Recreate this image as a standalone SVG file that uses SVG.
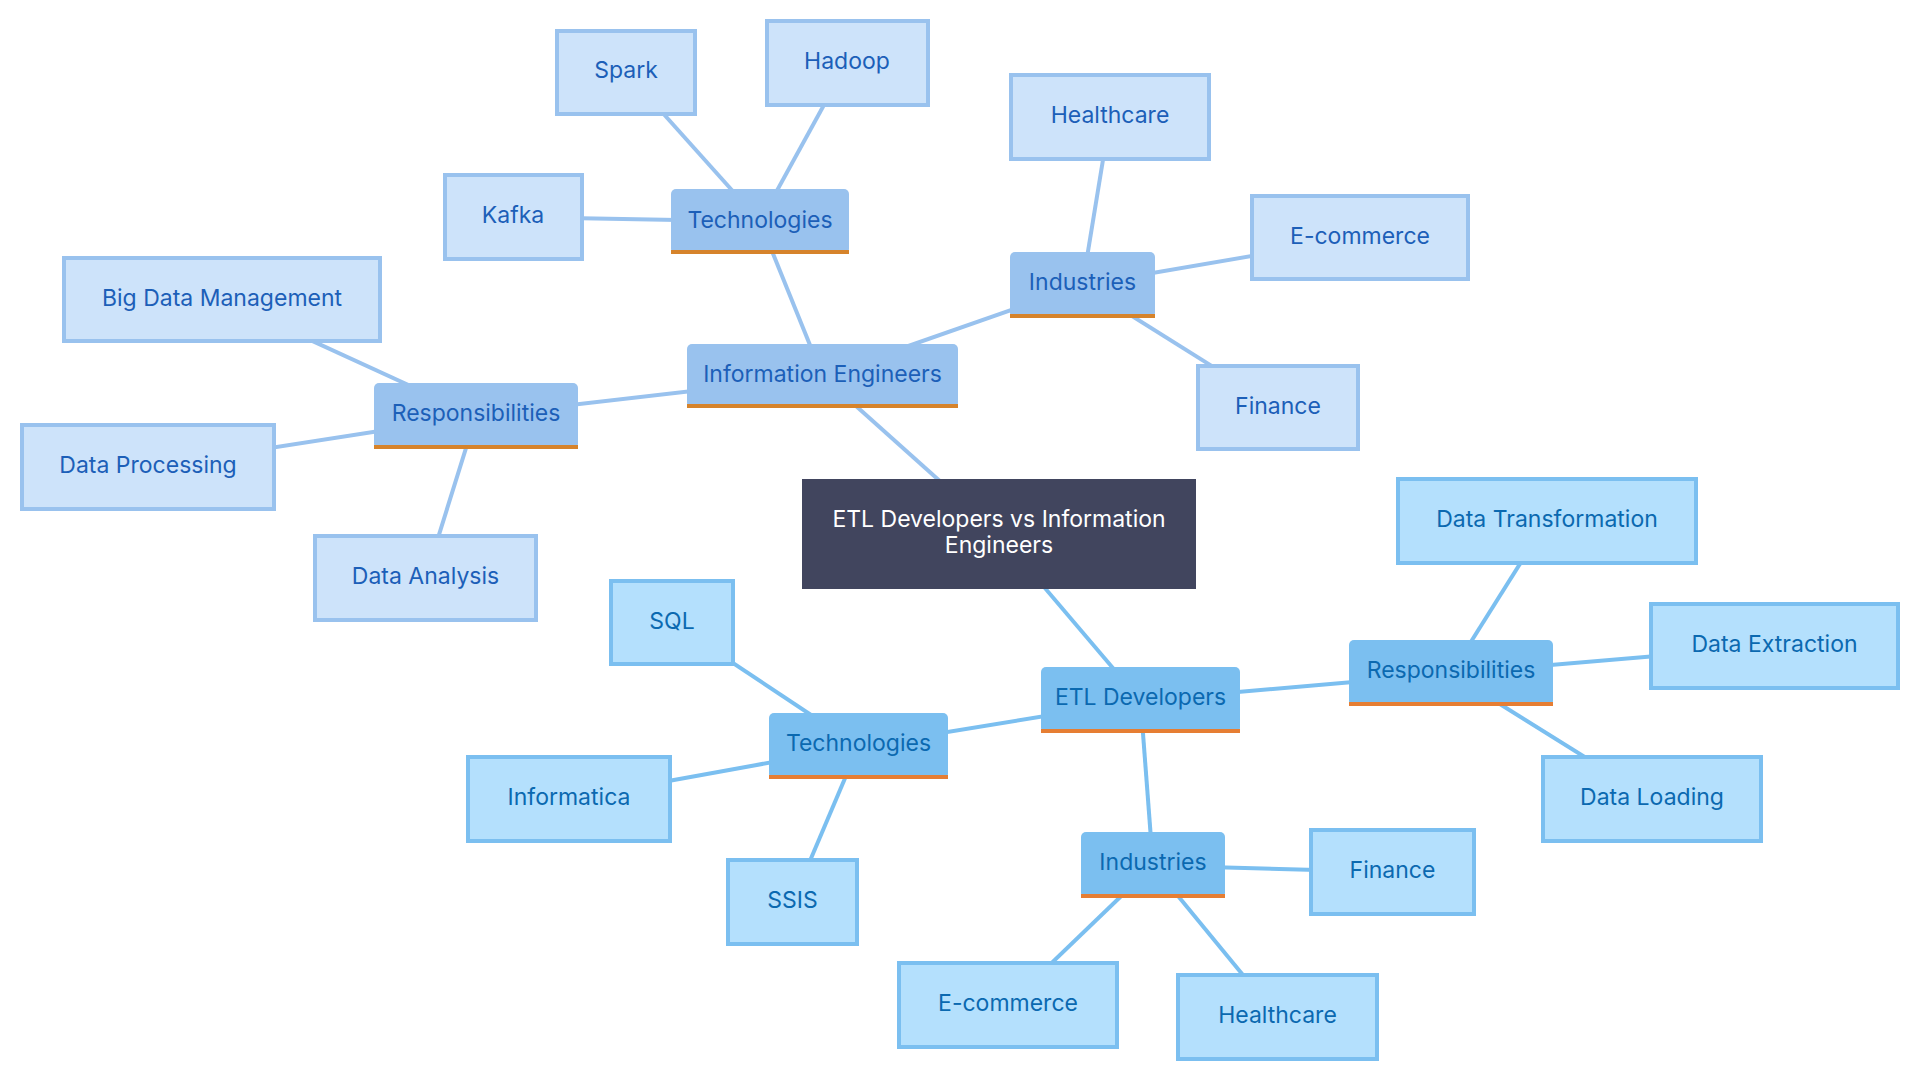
<svg xmlns="http://www.w3.org/2000/svg" width="1920" height="1080" viewBox="0 0 1920 1080">
<style>
text{font-family:Inter,"Noto Sans",sans-serif;font-size:23px;text-anchor:middle}
.ie-leaf rect{fill:#cde3fa;stroke:#99c2ee;stroke-width:4}
.ie-leaf text,.ie-mid text{fill:#1c5fb8}
.etl-leaf rect{fill:#b4e0fd;stroke:#7bbff0;stroke-width:4}
.etl-leaf text,.etl-mid text{fill:#0b69b0}
.ie-mid rect{fill:#99c2ee}
.etl-mid rect{fill:#7bbff0}
.ie-mid line{stroke:#d6832b;stroke-width:4}
.etl-mid line{stroke:#e67e33;stroke-width:4}
.c-ie{stroke:#99c2ee;stroke-width:4;fill:none}
.c-etl{stroke:#7bbff0;stroke-width:4;fill:none}
</style>
<rect width="1920" height="1080" fill="#ffffff"/>
<g id="connectors">
<line class="c-ie" x1="999" y1="534" x2="822.5" y2="376"/>
<line class="c-ie" x1="822.5" y1="376" x2="760" y2="221.5"/>
<line class="c-ie" x1="822.5" y1="376" x2="1082.5" y2="285"/>
<line class="c-ie" x1="822.5" y1="376" x2="476" y2="416"/>
<line class="c-ie" x1="760" y1="221.5" x2="626" y2="72"/>
<line class="c-ie" x1="760" y1="221.5" x2="847" y2="63"/>
<line class="c-ie" x1="760" y1="221.5" x2="513" y2="217"/>
<line class="c-ie" x1="1082.5" y1="285" x2="1110" y2="117"/>
<line class="c-ie" x1="1082.5" y1="285" x2="1360" y2="237.5"/>
<line class="c-ie" x1="1082.5" y1="285" x2="1278" y2="407.5"/>
<line class="c-ie" x1="476" y1="416" x2="222" y2="299.5"/>
<line class="c-ie" x1="476" y1="416" x2="148" y2="467"/>
<line class="c-ie" x1="476" y1="416" x2="425.5" y2="578"/>
<line class="c-etl" x1="999" y1="534" x2="1140.5" y2="700.5"/>
<line class="c-etl" x1="1140.5" y1="700.5" x2="858.5" y2="746.5"/>
<line class="c-etl" x1="1140.5" y1="700.5" x2="1451" y2="673.5"/>
<line class="c-etl" x1="1140.5" y1="700.5" x2="1153" y2="865.5"/>
<line class="c-etl" x1="858.5" y1="746.5" x2="672" y2="622.5"/>
<line class="c-etl" x1="858.5" y1="746.5" x2="569" y2="799"/>
<line class="c-etl" x1="858.5" y1="746.5" x2="792.5" y2="902"/>
<line class="c-etl" x1="1451" y1="673.5" x2="1547" y2="521"/>
<line class="c-etl" x1="1451" y1="673.5" x2="1774.5" y2="646"/>
<line class="c-etl" x1="1451" y1="673.5" x2="1652" y2="799"/>
<line class="c-etl" x1="1153" y1="865.5" x2="1392.5" y2="872"/>
<line class="c-etl" x1="1153" y1="865.5" x2="1008" y2="1005"/>
<line class="c-etl" x1="1153" y1="865.5" x2="1277.5" y2="1017"/>
</g>
<g id="root">
<rect x="802" y="479" width="394" height="110" fill="#41455e"/>
<text x="999" y="527" fill="#ffffff">ETL Developers vs Information</text>
<text x="999" y="553" fill="#ffffff">Engineers</text>
</g>
<g id="info-engineers" class="ie-mid">
<rect x="687" y="344" width="271" height="64" rx="5"/>
<line x1="687" y1="406" x2="958" y2="406"/>
<text x="822.5" y="382">Information Engineers</text>
</g>
<g id="ie-technologies" class="ie-mid">
<rect x="671" y="189" width="178" height="65" rx="5"/>
<line x1="671" y1="252" x2="849" y2="252"/>
<text x="760" y="228">Technologies</text>
</g>
<g id="ie-industries" class="ie-mid">
<rect x="1010" y="252" width="145" height="66" rx="5"/>
<line x1="1010" y1="316" x2="1155" y2="316"/>
<text x="1082.5" y="290">Industries</text>
</g>
<g id="ie-responsibilities" class="ie-mid">
<rect x="374" y="383" width="204" height="66" rx="5"/>
<line x1="374" y1="447" x2="578" y2="447"/>
<text x="476" y="421">Responsibilities</text>
</g>
<g id="ie-spark" class="ie-leaf"><rect x="557" y="31" width="138" height="83"/><text x="626" y="78">Spark</text></g>
<g id="ie-hadoop" class="ie-leaf"><rect x="767" y="21" width="161" height="84"/><text x="847" y="69">Hadoop</text></g>
<g id="ie-kafka" class="ie-leaf"><rect x="445" y="175" width="137" height="84"/><text x="513" y="223">Kafka</text></g>
<g id="ie-healthcare" class="ie-leaf"><rect x="1011" y="75" width="198" height="84"/><text x="1110" y="123">Healthcare</text></g>
<g id="ie-ecommerce" class="ie-leaf"><rect x="1252" y="196" width="216" height="83"/><text x="1360" y="244">E-commerce</text></g>
<g id="ie-finance" class="ie-leaf"><rect x="1198" y="366" width="160" height="83"/><text x="1278" y="414">Finance</text></g>
<g id="ie-big-data" class="ie-leaf"><rect x="64" y="258" width="316" height="83"/><text x="222" y="306">Big Data Management</text></g>
<g id="ie-processing" class="ie-leaf"><rect x="22" y="425" width="252" height="84"/><text x="148" y="473">Data Processing</text></g>
<g id="ie-analysis" class="ie-leaf"><rect x="315" y="536" width="221" height="84"/><text x="425.5" y="584">Data Analysis</text></g>
<g id="etl-developers" class="etl-mid">
<rect x="1041" y="667" width="199" height="66" rx="5"/>
<line x1="1041" y1="731" x2="1240" y2="731"/>
<text x="1140.5" y="705">ETL Developers</text>
</g>
<g id="etl-technologies" class="etl-mid">
<rect x="769" y="713" width="179" height="66" rx="5"/>
<line x1="769" y1="777" x2="948" y2="777"/>
<text x="858.5" y="751">Technologies</text>
</g>
<g id="etl-responsibilities" class="etl-mid">
<rect x="1349" y="640" width="204" height="66" rx="5"/>
<line x1="1349" y1="704" x2="1553" y2="704"/>
<text x="1451" y="678">Responsibilities</text>
</g>
<g id="etl-industries" class="etl-mid">
<rect x="1081" y="832" width="144" height="66" rx="5"/>
<line x1="1081" y1="896" x2="1225" y2="896"/>
<text x="1153" y="870">Industries</text>
</g>
<g id="etl-sql" class="etl-leaf"><rect x="611" y="581" width="122" height="83"/><text x="672" y="629">SQL</text></g>
<g id="etl-informatica" class="etl-leaf"><rect x="468" y="757" width="202" height="84"/><text x="569" y="805">Informatica</text></g>
<g id="etl-ssis" class="etl-leaf"><rect x="728" y="860" width="129" height="84"/><text x="792.5" y="908">SSIS</text></g>
<g id="etl-transformation" class="etl-leaf"><rect x="1398" y="479" width="298" height="84"/><text x="1547" y="527">Data Transformation</text></g>
<g id="etl-extraction" class="etl-leaf"><rect x="1651" y="604" width="247" height="84"/><text x="1774.5" y="652">Data Extraction</text></g>
<g id="etl-loading" class="etl-leaf"><rect x="1543" y="757" width="218" height="84"/><text x="1652" y="805">Data Loading</text></g>
<g id="etl-finance" class="etl-leaf"><rect x="1311" y="830" width="163" height="84"/><text x="1392.5" y="878">Finance</text></g>
<g id="etl-ecommerce" class="etl-leaf"><rect x="899" y="963" width="218" height="84"/><text x="1008" y="1011">E-commerce</text></g>
<g id="etl-healthcare" class="etl-leaf"><rect x="1178" y="975" width="199" height="84"/><text x="1277.5" y="1023">Healthcare</text></g>
</svg>
